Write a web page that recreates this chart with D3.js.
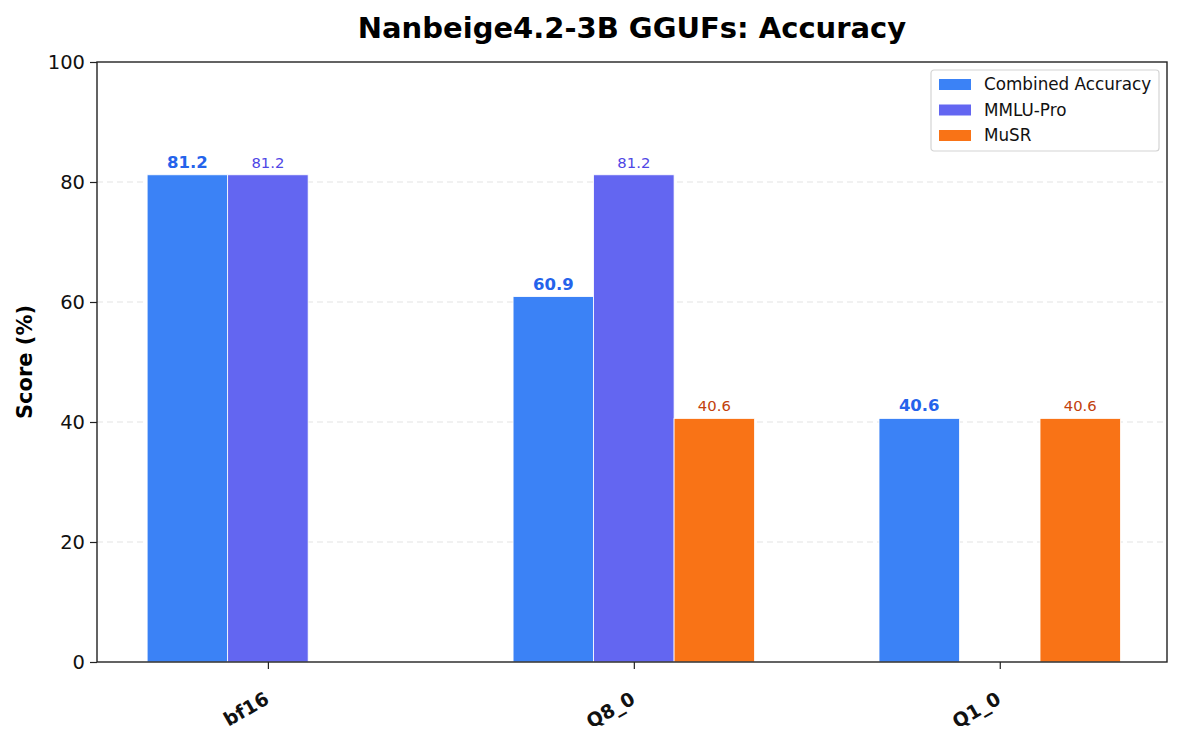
<!DOCTYPE html>
<html>
<head>
<meta charset="utf-8">
<script src="https://cdn.jsdelivr.net/npm/d3@7"></script>
<style>
  body { margin: 0; background: #fff; }
  text { font-family: "DejaVu Sans", sans-serif; }
</style>
</head>
<body>
<div id="chart"></div>
<script>
// data
const categories = ["bf16", "Q8_0", "Q1_0"];
const seriesNames = ["Combined Accuracy", "MMLU-Pro", "MuSR"];
const combined = [81.2, 60.9, 40.6];
const mmluPro = [81.2, 81.2, null];
const musr = [null, 40.6, 40.6];
const yTicks = [0, 20, 40, 60, 80, 100];

const colors = ["#3b82f6", "#6366f1", "#f97316"];
const labelColors = ["#2563eb", "#4f46e5", "#c2410c"];
const allSeries = [combined, mmluPro, musr];

const W = 1183, H = 734;
const margin = {left: 97, right: 16, top: 62, bottom: 72};

let svg = d3.select("#chart").append("svg")
    .attr("width", W)
    .attr("height", H);

let width = W - margin.left - margin.right;
let height = H - margin.top - margin.bottom;

let graph = svg.append("g")
    .attr("transform", "translate(" + margin.left + "," + margin.top + ")");

let x = d3.scaleLinear().domain([-0.467, 2.457]).range([0, width]);
let y = d3.scaleLinear().domain([0, 100]).range([height, 0]);
let barW = 0.22;

//grid
graph.append("g")
    .selectAll("line")
    .data(yTicks.filter(d => d > 0 && d < 100))
    .enter().append("line")
    .attr("x1", 0).attr("x2", width)
    .attr("y1", d => y(d)).attr("y2", d => y(d))
    .attr("stroke", "#e3e3e3")
    .attr("stroke-width", 1.2)
    .attr("stroke-dasharray", "6,4");

//bars
allSeries.forEach((vals, s) => {
    let offset = (s - 1) * barW;
    let pts = vals.map((v, i) => ({v: v, i: i})).filter(d => d.v != null);
    graph.selectAll(".bar" + s)
        .data(pts)
        .enter().append("rect")
        .attr("class", "bar" + s)
        .attr("x", d => x(d.i + offset - barW / 2))
        .attr("width", x(barW) - x(0))
        .attr("y", d => y(d.v))
        .attr("height", d => y(0) - y(d.v))
        .attr("fill", colors[s])
        .attr("stroke", "#fff")
        .attr("stroke-width", 0.8);
    graph.selectAll(".lab" + s)
        .data(pts)
        .enter().append("text")
        .attr("class", "lab" + s)
        .attr("x", d => x(d.i + offset))
        .attr("y", d => y(d.v) - 7)
        .attr("text-anchor", "middle")
        .attr("fill", labelColors[s])
        .style("font-size", s == 0 ? "16.5px" : "14.8px")
        .style("font-weight", s == 0 ? "bold" : "normal")
        .text(d => d.v.toFixed(1));
});

//axes
let yAxis = graph.append("g")
    .call(d3.axisLeft(y).tickValues(yTicks).tickSize(7).tickPadding(5));
yAxis.select(".domain").remove();
yAxis.selectAll("line").attr("stroke", "#222").attr("stroke-width", 1.2);
yAxis.selectAll("text").style("font-size", "19.5px").attr("fill", "#111");

let xAxis = graph.append("g")
    .attr("transform", "translate(0," + height + ")")
    .call(d3.axisBottom(x).tickValues([0, 1, 2]).tickSize(7).tickFormat(i => categories[i]));
xAxis.select(".domain").remove();
xAxis.selectAll("line").attr("stroke", "#222").attr("stroke-width", 1.2);
xAxis.selectAll("text")
    .style("font-size", "19px")
    .style("font-weight", "bold")
    .attr("fill", "#111")
    .attr("text-anchor", "end")
    .attr("dy", "0")
    .attr("transform", "translate(-3,32) rotate(-30)");

//frame
graph.append("rect")
    .attr("width", width).attr("height", height)
    .attr("fill", "none")
    .attr("stroke", "#222")
    .attr("stroke-width", 1.4);

//y label
svg.append("text")
    .attr("transform", "translate(32," + (margin.top + height / 2) + ") rotate(-90)")
    .attr("text-anchor", "middle")
    .style("font-size", "21px")
    .style("font-weight", "bold")
    .text("Score (%)");

//title
svg.append("text")
    .attr("x", margin.left + width / 2)
    .attr("y", 38)
    .attr("text-anchor", "middle")
    .style("font-size", "29px")
    .style("font-weight", "bold")
    .text("Nanbeige4.2-3B GGUFs: Accuracy");

//legend
let legend = svg.append("g").attr("transform", "translate(931,70)");
legend.append("rect")
    .attr("width", 228).attr("height", 81)
    .attr("rx", 3)
    .attr("fill", "#fff")
    .attr("stroke", "#d4d4d4")
    .attr("stroke-width", 1.2);
seriesNames.forEach((name, s) => {
    legend.append("rect")
        .attr("x", 8).attr("y", 9 + s * 25.5)
        .attr("width", 32).attr("height", 11)
        .attr("fill", colors[s]);
    legend.append("text")
        .attr("x", 53).attr("y", 20 + s * 25.5)
        .style("font-size", "16.8px")
        .attr("fill", "#111")
        .text(name);
});
</script>
</body>
</html>
